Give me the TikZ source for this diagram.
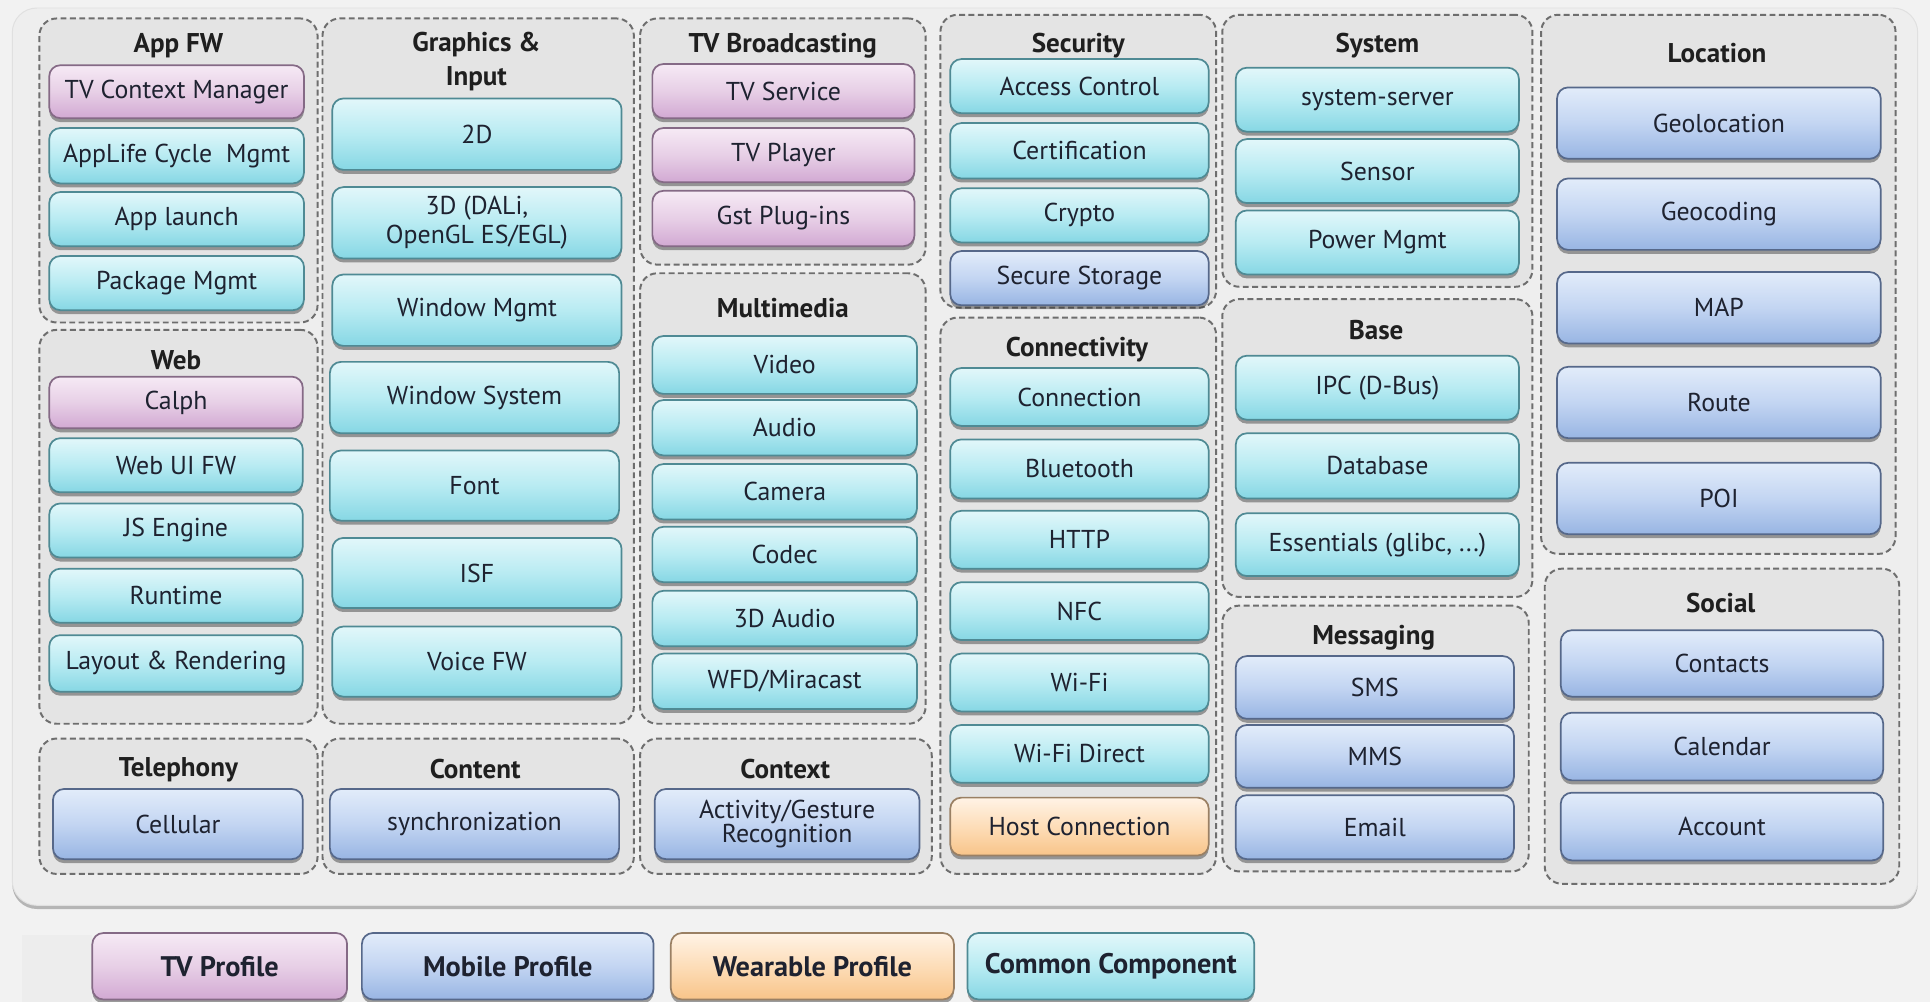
\documentclass[tikz,border=0pt]{standalone}
\usepackage{fontspec}
\setmainfont{PT Sans}
\usetikzlibrary{shadows}

\definecolor{bgcol}{HTML}{F2F2F2}
\definecolor{panel}{HTML}{EEEEEE}
\definecolor{grpfill}{HTML}{E4E4E4}
\definecolor{grpline}{HTML}{6E6E6E}
\definecolor{txt}{HTML}{1E2230}
% component colour schemes: top / middle / bottom / border
\definecolor{cyT}{HTML}{E2F7FA}\definecolor{cyM}{HTML}{B8EBF2}\definecolor{cyB}{HTML}{86D7E4}\definecolor{cyL}{HTML}{4F8A94}
\definecolor{piT}{HTML}{F6EAF5}\definecolor{piM}{HTML}{E7CFE6}\definecolor{piB}{HTML}{D2A9D3}\definecolor{piL}{HTML}{856A86}
\definecolor{blT}{HTML}{E2ECFA}\definecolor{blM}{HTML}{C3D5F2}\definecolor{blB}{HTML}{98B5E3}\definecolor{blL}{HTML}{56688A}
\definecolor{orT}{HTML}{FFF3E6}\definecolor{orM}{HTML}{FDDDB8}\definecolor{orB}{HTML}{F8C489}\definecolor{orL}{HTML}{9A8064}

\tikzset{
  x=0.5pt, y=-0.5pt,
  comp/.style={rounded corners=4.5pt, inner sep=0pt, outer sep=0pt, line width=0.7pt,
    align=center, text=txt, font=\fontsize{10.5}{11.5}\selectfont,
    drop shadow={shadow xshift=0pt, shadow yshift=-1.6pt, opacity=0.45, fill=black!80}},
  cyancomp/.style={comp, draw=cyL, top color=cyT, bottom color=cyB, middle color=cyM},
  pinkcomp/.style={comp, draw=piL, top color=piT, bottom color=piB, middle color=piM},
  bluecomp/.style={comp, draw=blL, top color=blT, bottom color=blB, middle color=blM},
  orangecomp/.style={comp, draw=orL, top color=orT, bottom color=orB, middle color=orM},
  legendtext/.style={font=\fontsize{11.5}{12}\bfseries\selectfont},
  grpbox/.style={draw=grpline, fill=grpfill, line width=0.8pt, dash pattern=on 2.4pt off 1.4pt,
    rounded corners=7pt, inner sep=0pt, outer sep=0pt},
  grptitle/.style={font=\fontsize{11}{12}\bfseries\selectfont, text=black!88, align=center, inner sep=0pt},
}

% component box: name, style, x1, y1, x2, y2, text
\newcommand\compbox[7]{%
  \node[#2, minimum width={(#5-#3)*0.5pt}, minimum height={(#6-#4)*0.5pt}]
    (#1) at ({(#3+#5)/2},{(#4+#6)/2}) {#7};}
% dashed group frame: name, x1, y1, x2, y2
\newcommand\grpframe[5]{%
  \node[grpbox, minimum width={(#4-#2)*0.5pt}, minimum height={(#5-#3)*0.5pt}]
    (#1) at ({(#2+#4)/2},{(#3+#5)/2}) {};}

\begin{document}
\begin{tikzpicture}
\useasboundingbox (0,0) rectangle (1568,814);
\fill[bgcol] (0,0) rectangle (1568,814);
\fill[black!7] (18,760) rectangle (75,814);

% outer panel
\node[fill=panel, draw=black!12, rounded corners=10pt, minimum width={1548*0.5pt}, minimum height={729*0.5pt},
  inner sep=0pt, drop shadow={shadow xshift=0pt, shadow yshift=-1.5pt, opacity=0.25, fill=black}]
  (panel) at (784,371) {};

% ---------- group frames ----------
\grpframe{gAppFW}{32}{15}{258}{262}
\grpframe{gWeb}{32}{268}{258}{588}
\grpframe{gTel}{32}{600}{258}{710}
\grpframe{gGfx}{262}{15}{515}{588}
\grpframe{gCont}{262}{600}{515}{710}
\grpframe{gTVB}{520}{15}{752}{215}
\grpframe{gMM}{520}{222}{752}{588}
\grpframe{gCtx}{520}{600}{757}{710}
\grpframe{gSec}{764}{12}{988}{250}
\grpframe{gConn}{764}{258}{988}{710}
\grpframe{gSys}{993}{12}{1245}{233}
\grpframe{gBase}{993}{243}{1245}{485}
\grpframe{gMsg}{993}{492}{1242}{708}
\grpframe{gLoc}{1252}{12}{1540}{450}
\grpframe{gSoc}{1255}{462}{1543}{718}

% ---------- group titles ----------
\node[grptitle] (tAppFW) at (145,37) {App FW};
\node[grptitle] (tWeb) at (143,293) {Web};
\node[grptitle] (tTel) at (145,625) {Telephony};
\node[grptitle] (tGfx) at (387,50) {Graphics \&\\[1.5pt]Input};
\node[grptitle] (tCont) at (386,625) {Content};
\node[grptitle] (tTVB) at (636,37) {TV Broadcasting};
\node[grptitle] (tMM) at (636,250) {Multimedia};
\node[grptitle] (tCtx) at (638,625) {Context};
\node[grptitle] (tSec) at (876,37) {Security};
\node[grptitle] (tConn) at (875,284) {Connectivity};
\node[grptitle] (tSys) at (1119,37) {System};
\node[grptitle] (tBase) at (1118,268) {Base};
\node[grptitle] (tMsg) at (1116,518) {Messaging};
\node[grptitle] (tLoc) at (1395,43) {Location};
\node[grptitle] (tSoc) at (1398,490) {Social};

% ---------- App FW ----------
\compbox{tvctx}{pinkcomp}{40}{53}{247}{96}{TV Context Manager}
\compbox{applife}{cyancomp}{40}{104}{247}{149}{AppLife Cycle\ \ Mgmt}
\compbox{applaunch}{cyancomp}{40}{156}{247}{200}{App launch}
\compbox{pkgmgmt}{cyancomp}{40}{208}{247}{252}{Package Mgmt}
% ---------- Web ----------
\compbox{calph}{pinkcomp}{40}{306}{246}{348}{Calph}
\compbox{webui}{cyancomp}{40}{356}{246}{400}{Web UI FW}
\compbox{jseng}{cyancomp}{40}{409}{246}{453}{JS Engine}
\compbox{runtime}{cyancomp}{40}{462}{246}{506}{Runtime}
\compbox{layout}{cyancomp}{40}{516}{246}{562}{Layout \& Rendering}
% ---------- Telephony ----------
\compbox{cellular}{bluecomp}{43}{641}{246}{698}{Cellular}
% ---------- Graphics & Input ----------
\compbox{g2d}{cyancomp}{270}{80}{505}{138}{2D}
\compbox{g3d}{cyancomp}{270}{152}{505}{210}{3D (DALi,\\OpenGL ES/EGL)}
\compbox{winmgmt}{cyancomp}{270}{223}{505}{281}{Window Mgmt}
\compbox{winsys}{cyancomp}{268}{294}{503}{352}{Window System}
\compbox{font}{cyancomp}{268}{366}{503}{423}{Font}
\compbox{isf}{cyancomp}{270}{437}{505}{494}{ISF}
\compbox{voice}{cyancomp}{270}{509}{505}{566}{Voice FW}
% ---------- Content ----------
\compbox{sync}{bluecomp}{268}{641}{503}{698}{synchronization}
% ---------- TV Broadcasting ----------
\compbox{tvsvc}{pinkcomp}{530}{52}{743}{96}{TV Service}
\compbox{tvplayer}{pinkcomp}{530}{104}{743}{148}{TV Player}
\compbox{gst}{pinkcomp}{530}{155}{743}{200}{Gst Plug-ins}
% ---------- Multimedia ----------
\compbox{video}{cyancomp}{530}{273}{745}{320}{Video}
\compbox{audio}{cyancomp}{530}{325}{745}{370}{Audio}
\compbox{camera}{cyancomp}{530}{377}{745}{422}{Camera}
\compbox{codec}{cyancomp}{530}{428}{745}{473}{Codec}
\compbox{audio3d}{cyancomp}{530}{480}{745}{525}{3D Audio}
\compbox{wfd}{cyancomp}{530}{531}{745}{576}{WFD/Miracast}
% ---------- Context ----------
\compbox{activity}{bluecomp}{532}{641}{747}{698}{Activity/Gesture\\[-2pt]Recognition}
% ---------- Security ----------
\compbox{access}{cyancomp}{772}{48}{982}{92}{Access Control}
\compbox{cert}{cyancomp}{772}{100}{982}{145}{Certification}
\compbox{crypto}{cyancomp}{772}{153}{982}{197}{Crypto}
\compbox{secstore}{bluecomp}{772}{204}{982}{248}{Secure Storage}
% ---------- Connectivity ----------
\compbox{connection}{cyancomp}{772}{299}{982}{346}{Connection}
\compbox{bt}{cyancomp}{772}{357}{982}{405}{Bluetooth}
\compbox{http}{cyancomp}{772}{415}{982}{462}{HTTP}
\compbox{nfc}{cyancomp}{772}{473}{982}{520}{NFC}
\compbox{wifi}{cyancomp}{772}{531}{982}{578}{Wi-Fi}
\compbox{wifidirect}{cyancomp}{772}{589}{982}{636}{Wi-Fi Direct}
\compbox{hostconn}{orangecomp}{772}{648}{982}{695}{Host Connection}
% ---------- System ----------
\compbox{sysserver}{cyancomp}{1004}{55}{1234}{107}{system-server}
\compbox{sensor}{cyancomp}{1004}{113}{1234}{165}{Sensor}
\compbox{power}{cyancomp}{1004}{171}{1234}{223}{Power Mgmt}
% ---------- Base ----------
\compbox{ipc}{cyancomp}{1004}{289}{1234}{341}{IPC (D-Bus)}
\compbox{database}{cyancomp}{1004}{352}{1234}{405}{Database}
\compbox{essentials}{cyancomp}{1004}{417}{1234}{468}{Essentials (glibc, ...)}
% ---------- Messaging ----------
\compbox{sms}{bluecomp}{1004}{533}{1230}{584}{SMS}
\compbox{mms}{bluecomp}{1004}{589}{1230}{640}{MMS}
\compbox{email}{bluecomp}{1004}{646}{1230}{698}{Email}
% ---------- Location ----------
\compbox{geoloc}{bluecomp}{1265}{71}{1528}{129}{Geolocation}
\compbox{geocod}{bluecomp}{1265}{145}{1528}{203}{Geocoding}
\compbox{map}{bluecomp}{1265}{221}{1528}{279}{MAP}
\compbox{route}{bluecomp}{1265}{298}{1528}{356}{Route}
\compbox{poi}{bluecomp}{1265}{376}{1528}{434}{POI}
% ---------- Social ----------
\compbox{contacts}{bluecomp}{1268}{512}{1530}{566}{Contacts}
\compbox{calendar}{bluecomp}{1268}{579}{1530}{634}{Calendar}
\compbox{account}{bluecomp}{1268}{644}{1530}{699}{Account}

% ---------- legend ----------
\compbox{lgTV}{pinkcomp,legendtext}{75}{758}{282}{812}{TV Profile}
\compbox{lgMob}{bluecomp,legendtext}{294}{758}{531}{812}{Mobile Profile}
\compbox{lgWear}{orangecomp,legendtext}{545}{758}{775}{812}{Wearable Profile}
\compbox{lgCommon}{cyancomp,legendtext}{786}{758}{1019}{812}{Common Component}
\end{tikzpicture}
\end{document}
